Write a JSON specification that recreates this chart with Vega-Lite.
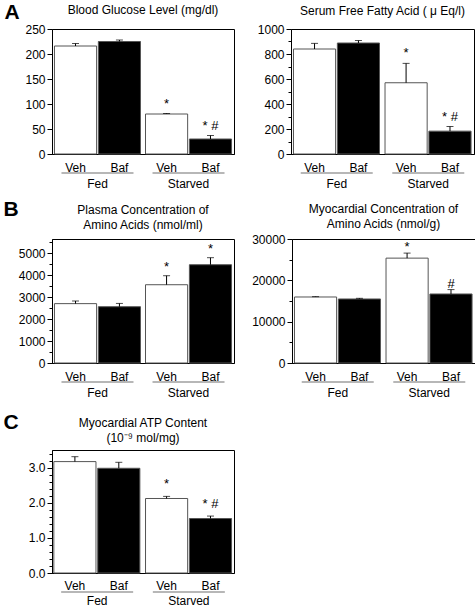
{
  "$schema": "https://vega.github.io/schema/vega-lite/v6.json",
  "padding": 0,
  "background": "white",
  "spacing": 11,
  "config": {
    "font": "Liberation Sans",
    "view": {"stroke": "black", "strokeWidth": 1},
    "axis": {"domainColor": "black", "tickColor": "black", "labelColor": "black", "labelFontSize": 12, "grid": false, "titleFontSize": 12, "labelOverlap": false},
    "title": {"fontSize": 12, "fontWeight": "normal", "color": "black"},
    "concat": {"spacing": 0}
  },
  "datasets": {
    "glucose": [
      {"condition": "Fed", "treatment": "Veh", "value": 216, "upper": 221, "sig": ""},
      {"condition": "Fed", "treatment": "Baf", "value": 225, "upper": 228, "sig": ""},
      {"condition": "Starved", "treatment": "Veh", "value": 80, "upper": 81, "sig": "*"},
      {"condition": "Starved", "treatment": "Baf", "value": 30, "upper": 37, "sig": "* #"}
    ],
    "ffa": [
      {"condition": "Fed", "treatment": "Veh", "value": 840, "upper": 885, "sig": ""},
      {"condition": "Fed", "treatment": "Baf", "value": 888, "upper": 908, "sig": ""},
      {"condition": "Starved", "treatment": "Veh", "value": 570, "upper": 725, "sig": "*"},
      {"condition": "Starved", "treatment": "Baf", "value": 183, "upper": 220, "sig": "* #"}
    ],
    "plasma": [
      {"condition": "Fed", "treatment": "Veh", "value": 2700, "upper": 2820, "sig": ""},
      {"condition": "Fed", "treatment": "Baf", "value": 2560, "upper": 2710, "sig": ""},
      {"condition": "Starved", "treatment": "Veh", "value": 3560, "upper": 3970, "sig": "*"},
      {"condition": "Starved", "treatment": "Baf", "value": 4470, "upper": 4790, "sig": "*"}
    ],
    "myo": [
      {"condition": "Fed", "treatment": "Veh", "value": 15970, "upper": 16050, "sig": ""},
      {"condition": "Fed", "treatment": "Baf", "value": 15490, "upper": 15650, "sig": ""},
      {"condition": "Starved", "treatment": "Veh", "value": 25370, "upper": 26590, "sig": "*"},
      {"condition": "Starved", "treatment": "Baf", "value": 16700, "upper": 17760, "sig": "#"}
    ],
    "atp": [
      {"condition": "Fed", "treatment": "Veh", "value": 3.17, "upper": 3.31, "sig": ""},
      {"condition": "Fed", "treatment": "Baf", "value": 2.98, "upper": 3.15, "sig": ""},
      {"condition": "Starved", "treatment": "Veh", "value": 2.12, "upper": 2.18, "sig": "*"},
      {"condition": "Starved", "treatment": "Baf", "value": 1.55, "upper": 1.62, "sig": "* #"}
    ]
  },
  "vconcat": [
    {
      "spacing": 7,
      "vconcat": [
        {
          "spacing": 0,
          "hconcat": [
            {
              "width": 182, "height": 125,
              "title": {"text": "Blood Glucose Level (mg/dl)", "offset": -16},
              "data": {"name": "glucose"},
              "encoding": {"x": {"field": "condition", "type": "nominal", "sort": ["Fed", "Starved"], "scale": {"paddingInner": 0.055, "paddingOuter": 0.027}, "axis": {"title": null, "labelAngle": 0, "labelPadding": 24, "ticks": false}}},
              "layer": [
                {"mark": {"type": "bar", "stroke": "#555", "strokeWidth": 1},
                 "encoding": {
                   "xOffset": {"field": "treatment", "type": "nominal", "sort": ["Veh", "Baf"], "scale": {"paddingInner": 0.04}},
                   "y": {"field": "value", "type": "quantitative", "scale": {"domain": [0, 250], "nice": false}, "axis": {"title": "A", "titleFontSize": 21, "titleFontWeight": "bold", "titleColor": "black", "titleAngle": 0, "titleAlign": "left", "titleBaseline": "alphabetic", "titleX": -48, "titleY": -11, "values": [0, 50, 100, 150, 200, 250], "tickCount": 100, "labelOverlap": false, "tickSize": 5, "labelPadding": 2, "minExtent": 51}},
                   "fill": {"field": "treatment", "type": "nominal", "scale": {"domain": ["Veh", "Baf"], "range": ["white", "black"]}, "legend": null}}},
                {"mark": {"type": "rule", "color": "black"}, "encoding": {"xOffset": {"field": "treatment", "type": "nominal", "sort": ["Veh", "Baf"]}, "y": {"field": "value", "type": "quantitative", "axis": {"title": "A"}}, "y2": {"field": "upper"}}},
                {"mark": {"type": "tick", "color": "black", "size": 7, "thickness": 1}, "encoding": {"xOffset": {"field": "treatment", "type": "nominal", "sort": ["Veh", "Baf"]}, "y": {"field": "upper", "type": "quantitative", "axis": {"title": "A"}}}},
                {"mark": {"type": "text", "fontSize": 13, "baseline": "alphabetic", "dy": -6}, "encoding": {"xOffset": {"field": "treatment", "type": "nominal", "sort": ["Veh", "Baf"]}, "y": {"field": "upper", "type": "quantitative", "axis": {"title": "A"}}, "text": {"field": "sig"}}},
                {"mark": {"type": "text", "fontSize": 12, "baseline": "top", "dy": 9}, "encoding": {"xOffset": {"field": "treatment", "type": "nominal", "sort": ["Veh", "Baf"]}, "y": {"datum": 0}, "text": {"field": "treatment"}}},
                {"transform": [{"filter": "datum.treatment == 'Veh'"}], "mark": {"type": "tick", "color": "#333", "size": 72, "thickness": 1, "yOffset": 19}, "encoding": {"y": {"datum": 0}}}
              ]
            },
            {
              "width": 183, "height": 125,
              "title": {"text": "Serum Free Fatty Acid ( μ Eq/l)", "offset": 5},
              "data": {"name": "ffa"},
              "encoding": {"x": {"field": "condition", "type": "nominal", "sort": ["Fed", "Starved"], "scale": {"paddingInner": 0.055, "paddingOuter": 0.027}, "axis": {"title": null, "labelAngle": 0, "labelPadding": 24, "ticks": false}}},
              "layer": [
                {"mark": {"type": "bar", "stroke": "#555", "strokeWidth": 1},
                 "encoding": {
                   "xOffset": {"field": "treatment", "type": "nominal", "sort": ["Veh", "Baf"], "scale": {"paddingInner": 0.04}},
                   "y": {"field": "value", "type": "quantitative", "scale": {"domain": [0, 1000], "nice": false}, "axis": {"title": null, "values": [0, 100, 200, 300, 400, 500, 600, 700, 800, 900, 1000], "tickCount": 100, "labelOverlap": false, "format": "d", "labelExpr": "datum.value % 200 == 0 ? datum.label : ''", "tickSize": {"condition": {"test": "datum.value % 200 == 0", "value": 5}, "value": 3}, "labelPadding": 2, "minExtent": 55}},
                   "fill": {"field": "treatment", "type": "nominal", "scale": {"domain": ["Veh", "Baf"], "range": ["white", "black"]}, "legend": null}}},
                {"mark": {"type": "rule", "color": "black"}, "encoding": {"xOffset": {"field": "treatment", "type": "nominal", "sort": ["Veh", "Baf"]}, "y": {"field": "value", "type": "quantitative", "axis": {"title": null}}, "y2": {"field": "upper"}}},
                {"mark": {"type": "tick", "color": "black", "size": 7, "thickness": 1}, "encoding": {"xOffset": {"field": "treatment", "type": "nominal", "sort": ["Veh", "Baf"]}, "y": {"field": "upper", "type": "quantitative", "axis": {"title": null}}}},
                {"mark": {"type": "text", "fontSize": 13, "baseline": "alphabetic", "dy": -6}, "encoding": {"xOffset": {"field": "treatment", "type": "nominal", "sort": ["Veh", "Baf"]}, "y": {"field": "upper", "type": "quantitative", "axis": {"title": null}}, "text": {"field": "sig"}}},
                {"mark": {"type": "text", "fontSize": 12, "baseline": "top", "dy": 9}, "encoding": {"xOffset": {"field": "treatment", "type": "nominal", "sort": ["Veh", "Baf"]}, "y": {"datum": 0}, "text": {"field": "treatment"}}},
                {"transform": [{"filter": "datum.treatment == 'Veh'"}], "mark": {"type": "tick", "color": "#333", "size": 72, "thickness": 1, "yOffset": 19}, "encoding": {"y": {"datum": 0}}}
              ]
            }
          ]
        },
        {
          "spacing": 0,
          "hconcat": [
            {
              "width": 182, "height": 124,
              "title": {"text": ["Plasma Concentration of", "Amino Acids (nmol/ml)"], "offset": -34, "lineHeight": 15},
              "data": {"name": "plasma"},
              "encoding": {"x": {"field": "condition", "type": "nominal", "sort": ["Fed", "Starved"], "scale": {"paddingInner": 0.055, "paddingOuter": 0.027}, "axis": {"title": null, "labelAngle": 0, "labelPadding": 24, "ticks": false}}},
              "layer": [
                {"mark": {"type": "bar", "stroke": "#555", "strokeWidth": 1},
                 "encoding": {
                   "xOffset": {"field": "treatment", "type": "nominal", "sort": ["Veh", "Baf"], "scale": {"paddingInner": 0.04}},
                   "y": {"field": "value", "type": "quantitative", "scale": {"domain": [0, 5640], "nice": false}, "axis": {"title": "B", "titleFontSize": 21, "titleFontWeight": "bold", "titleColor": "black", "titleAngle": 0, "titleAlign": "left", "titleBaseline": "alphabetic", "titleX": -49, "titleY": -24, "values": [0, 500, 1000, 1500, 2000, 2500, 3000, 3500, 4000, 4500, 5000, 5500], "tickCount": 100, "labelOverlap": false, "labelExpr": "datum.value % 1000 == 0 ? datum.label : ''", "format": "d", "tickSize": {"condition": {"test": "datum.value % 1000 == 0", "value": 5}, "value": 3}, "labelPadding": 2, "minExtent": 51}},
                   "fill": {"field": "treatment", "type": "nominal", "scale": {"domain": ["Veh", "Baf"], "range": ["white", "black"]}, "legend": null}}},
                {"mark": {"type": "rule", "color": "black"}, "encoding": {"xOffset": {"field": "treatment", "type": "nominal", "sort": ["Veh", "Baf"]}, "y": {"field": "value", "type": "quantitative", "axis": {"title": "B"}}, "y2": {"field": "upper"}}},
                {"mark": {"type": "tick", "color": "black", "size": 7, "thickness": 1}, "encoding": {"xOffset": {"field": "treatment", "type": "nominal", "sort": ["Veh", "Baf"]}, "y": {"field": "upper", "type": "quantitative", "axis": {"title": "B"}}}},
                {"mark": {"type": "text", "fontSize": 13, "baseline": "alphabetic", "dy": -5}, "encoding": {"xOffset": {"field": "treatment", "type": "nominal", "sort": ["Veh", "Baf"]}, "y": {"field": "upper", "type": "quantitative", "axis": {"title": "B"}}, "text": {"field": "sig"}}},
                {"mark": {"type": "text", "fontSize": 12, "baseline": "top", "dy": 9}, "encoding": {"xOffset": {"field": "treatment", "type": "nominal", "sort": ["Veh", "Baf"]}, "y": {"datum": 0}, "text": {"field": "treatment"}}},
                {"transform": [{"filter": "datum.treatment == 'Veh'"}], "mark": {"type": "tick", "color": "#333", "size": 72, "thickness": 1, "yOffset": 19}, "encoding": {"y": {"datum": 0}}}
              ]
            },
            {
              "width": 183, "height": 124,
              "title": {"text": ["Myocardial Concentration of", "Amino Acids (nmol/g)"], "offset": 2, "lineHeight": 15},
              "data": {"name": "myo"},
              "encoding": {"x": {"field": "condition", "type": "nominal", "sort": ["Fed", "Starved"], "scale": {"paddingInner": 0.055, "paddingOuter": 0.027}, "axis": {"title": null, "labelAngle": 0, "labelPadding": 24, "ticks": false}}},
              "layer": [
                {"mark": {"type": "bar", "stroke": "#555", "strokeWidth": 1},
                 "encoding": {
                   "xOffset": {"field": "treatment", "type": "nominal", "sort": ["Veh", "Baf"], "scale": {"paddingInner": 0.04}},
                   "y": {"field": "value", "type": "quantitative", "scale": {"domain": [0, 30000], "nice": false}, "axis": {"title": null, "values": [0, 5000, 10000, 15000, 20000, 25000, 30000], "tickCount": 100, "labelOverlap": false, "labelExpr": "datum.value % 10000 == 0 ? datum.label : ''", "format": "d", "tickSize": {"condition": {"test": "datum.value % 10000 == 0", "value": 5}, "value": 3}, "labelPadding": 2, "minExtent": 56}},
                   "fill": {"field": "treatment", "type": "nominal", "scale": {"domain": ["Veh", "Baf"], "range": ["white", "black"]}, "legend": null}}},
                {"mark": {"type": "rule", "color": "black"}, "encoding": {"xOffset": {"field": "treatment", "type": "nominal", "sort": ["Veh", "Baf"]}, "y": {"field": "value", "type": "quantitative", "axis": {"title": null}}, "y2": {"field": "upper"}}},
                {"mark": {"type": "tick", "color": "black", "size": 7, "thickness": 1}, "encoding": {"xOffset": {"field": "treatment", "type": "nominal", "sort": ["Veh", "Baf"]}, "y": {"field": "upper", "type": "quantitative", "axis": {"title": null}}}},
                {"mark": {"type": "text", "fontSize": 13, "baseline": "alphabetic", "dy": -2}, "encoding": {"xOffset": {"field": "treatment", "type": "nominal", "sort": ["Veh", "Baf"]}, "y": {"field": "upper", "type": "quantitative", "axis": {"title": null}}, "text": {"field": "sig"}}},
                {"mark": {"type": "text", "fontSize": 12, "baseline": "top", "dy": 9}, "encoding": {"xOffset": {"field": "treatment", "type": "nominal", "sort": ["Veh", "Baf"]}, "y": {"datum": 0}, "text": {"field": "treatment"}}},
                {"transform": [{"filter": "datum.treatment == 'Veh'"}], "mark": {"type": "tick", "color": "#333", "size": 72, "thickness": 1, "yOffset": 19}, "encoding": {"y": {"datum": 0}}}
              ]
            }
          ]
        }
      ]
    },
    {
      "width": 182, "height": 123,
      "title": {"text": ["Myocardial ATP Content", "(10⁻⁹ mol/mg)"], "offset": -34, "lineHeight": 15},
      "data": {"name": "atp"},
      "encoding": {"x": {"field": "condition", "type": "nominal", "sort": ["Fed", "Starved"], "scale": {"paddingInner": 0.055, "paddingOuter": 0.02}, "axis": {"title": null, "labelAngle": 0, "labelPadding": 22, "ticks": false}}},
      "layer": [
        {"mark": {"type": "bar", "stroke": "#555", "strokeWidth": 1},
         "encoding": {
           "xOffset": {"field": "treatment", "type": "nominal", "sort": ["Veh", "Baf"], "scale": {"paddingInner": 0.04}},
           "y": {"field": "value", "type": "quantitative", "scale": {"domain": [0, 3.5], "nice": false}, "axis": {"title": "C", "titleFontSize": 21, "titleFontWeight": "bold", "titleColor": "black", "titleAngle": 0, "titleAlign": "left", "titleBaseline": "alphabetic", "titleX": -49, "titleY": -22, "values": [0, 0.2, 0.4, 0.6, 0.8, 1, 1.2, 1.4, 1.6, 1.8, 2, 2.2, 2.4, 2.6, 2.8, 3, 3.2, 3.4], "tickCount": 100, "labelOverlap": false, "format": ".1f", "labelExpr": "datum.value % 1 == 0 ? datum.label : ''", "tickSize": {"condition": {"test": "datum.value % 1 == 0", "value": 5}, "value": 3}, "labelPadding": 2, "minExtent": 51}},
           "fill": {"field": "treatment", "type": "nominal", "scale": {"domain": ["Veh", "Baf"], "range": ["white", "black"]}, "legend": null}}},
        {"mark": {"type": "rule", "color": "black"}, "encoding": {"xOffset": {"field": "treatment", "type": "nominal", "sort": ["Veh", "Baf"]}, "y": {"field": "value", "type": "quantitative", "axis": {"title": "C"}}, "y2": {"field": "upper"}}},
        {"mark": {"type": "tick", "color": "black", "size": 7, "thickness": 1}, "encoding": {"xOffset": {"field": "treatment", "type": "nominal", "sort": ["Veh", "Baf"]}, "y": {"field": "upper", "type": "quantitative", "axis": {"title": "C"}}}},
        {"mark": {"type": "text", "fontSize": 13, "baseline": "alphabetic", "dy": -8}, "encoding": {"xOffset": {"field": "treatment", "type": "nominal", "sort": ["Veh", "Baf"]}, "y": {"field": "upper", "type": "quantitative", "axis": {"title": "C"}}, "text": {"field": "sig"}}},
        {"mark": {"type": "text", "fontSize": 12, "baseline": "top", "dy": 8}, "encoding": {"xOffset": {"field": "treatment", "type": "nominal", "sort": ["Veh", "Baf"]}, "y": {"datum": 0}, "text": {"field": "treatment"}}},
        {"transform": [{"filter": "datum.treatment == 'Veh'"}], "mark": {"type": "tick", "color": "#333", "size": 72, "thickness": 1, "yOffset": 19}, "encoding": {"y": {"datum": 0}}}
      ]
    }
  ]
}
